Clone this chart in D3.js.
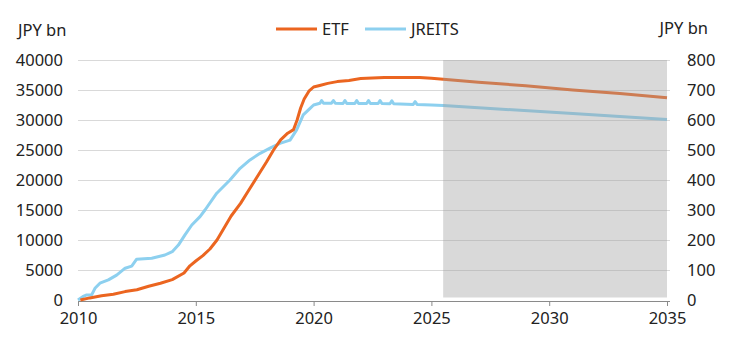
<!DOCTYPE html>
<html>
<head>
<meta charset="utf-8">
<script src="https://cdn.jsdelivr.net/npm/d3@7"></script>
<style>
  html, body { margin: 0; padding: 0; background: #fff; }
  svg { display: block; }
  text { font-family: "Noto Sans", "Open Sans", sans-serif; fill: #222; }
</style>
</head>
<body>
<svg id="chart" width="729" height="346"></svg>
<script>
// BoJ holdings: ETF (left axis) and J-REITs (right axis), JPY bn
const etfYears = [2010.1, 2010.5, 2011.0, 2011.5, 2012.0, 2012.5, 2013.0, 2013.5, 2014.0, 2014.5,
  2014.75, 2015.0, 2015.3, 2015.6, 2015.9, 2016.2, 2016.5, 2016.9, 2017.2, 2017.6,
  2018.0, 2018.3, 2018.6, 2018.9, 2019.15, 2019.3, 2019.45, 2019.6, 2019.8, 2020.0,
  2020.3, 2020.6, 2021.0, 2021.5, 2022.0, 2022.5, 2023.0, 2024.0, 2024.5, 2025.0,
  2025.5, 2027.0, 2029.0, 2031.0, 2033.0, 2035.0];
const etfValues = [0, 350, 700, 950, 1400, 1700, 2300, 2800, 3400, 4500,
  5700, 6500, 7400, 8500, 10000, 12000, 14000, 16100, 18000, 20500,
  23000, 25000, 26700, 27800, 28400, 30000, 32000, 33500, 34800, 35500,
  35800, 36100, 36400, 36600, 36900, 37000, 37100, 37100, 37100, 36950,
  36800, 36300, 35700, 35000, 34400, 33700];

const jreitYears = [2010.0, 2010.2, 2010.37, 2010.58, 2010.72, 2010.93, 2011.29, 2011.64, 2012.0, 2012.28,
  2012.49, 2013.13, 2013.69, 2014.0, 2014.26, 2014.54, 2014.83, 2015.18, 2015.39, 2015.89,
  2016.45, 2016.88, 2017.3, 2017.73, 2018.15, 2018.57, 2019.0, 2019.28, 2019.56, 2019.85,
  2020.0, 2020.27, 2020.34, 2020.42, 2020.76, 2020.84, 2020.92, 2021.25, 2021.33, 2021.41,
  2021.75, 2021.83, 2021.91, 2022.25, 2022.33, 2022.41, 2022.74, 2022.82, 2022.9, 2023.24,
  2023.32, 2023.4, 2024.23, 2024.31, 2024.39, 2025.0, 2025.5, 2028.0, 2031.0, 2035.0];
const jreitValues = [0, 11, 17, 17, 39, 56, 67, 83, 106, 113,
  136, 139, 150, 161, 183, 217, 250, 278, 300, 356,
  400, 439, 467, 489, 506, 522, 533, 567, 617, 639,
  650, 656, 665, 656, 656, 665, 656, 655, 665, 655,
  655, 665, 655, 655, 665, 655, 655, 665, 655, 654,
  664, 654, 652, 661, 652, 650, 648, 636, 622, 602];

const xTicks = [2010, 2015, 2020, 2025, 2030, 2035];
const leftTicks = [0, 5000, 10000, 15000, 20000, 25000, 30000, 35000, 40000];
const rightTicks = [0, 100, 200, 300, 400, 500, 600, 700, 800];
const forecastStart = 2025.5;
const seriesNames = ["ETF", "JREITS"];
const colors = ["#eb6520", "#8dd0ef"];

const svg = d3.select("#chart");
const x = d3.scaleLinear().domain([2010, 2035]).range([78, 667]);
const yL = d3.scaleLinear().domain([0, 40000]).range([300, 60]);
const yR = d3.scaleLinear().domain([0, 800]).range([300, 60]);

// gridlines
svg.append("g").selectAll("line").data(leftTicks.slice(1)).join("line")
  .attr("x1", 78).attr("x2", 670)
  .attr("y1", d => yL(d) + 0.5).attr("y2", d => yL(d) + 0.5)
  .attr("stroke", "#d9d9d9").attr("stroke-width", 1);

// left axis labels
svg.append("g").selectAll("text").data(leftTicks).join("text")
  .attr("x", 63).attr("y", d => yL(d)).attr("dy", "0.35em")
  .attr("text-anchor", "end").attr("font-size", 16.5).text(d => d);
// right axis labels
svg.append("g").selectAll("text").data(rightTicks).join("text")
  .attr("x", 687).attr("y", d => yR(d)).attr("dy", "0.35em")
  .attr("text-anchor", "start").attr("font-size", 16.5).text(d => d);

svg.append("text").attr("x", 18).attr("y", 30).attr("dy", "0.35em")
  .attr("font-size", 16.5).text("JPY bn");
svg.append("text").attr("x", 708).attr("y", 28).attr("dy", "0.35em")
  .attr("text-anchor", "end").attr("font-size", 16.5).text("JPY bn");

// x axis
const xAxis = svg.append("g").attr("transform", "translate(0,301)")
  .call(d3.axisBottom(x).tickValues(xTicks).tickFormat(d3.format("d")).tickSize(5).tickPadding(6));
xAxis.select(".domain").attr("stroke", "#8a8a8a").attr("d", "M78,0.5H670");
xAxis.selectAll(".tick line").attr("stroke", "#8a8a8a");
xAxis.selectAll(".tick text").attr("font-size", 16.5).attr("fill", "#222")
  .style("font-family", '"Noto Sans", sans-serif');

// series lines
const lineL = d3.line().x((d, i) => x(etfYears[i])).y(d => yL(d));
const lineR = d3.line().x((d, i) => x(jreitYears[i])).y(d => yR(d));
svg.append("path").datum(jreitValues).attr("d", lineR)
  .attr("fill", "none").attr("stroke", colors[1]).attr("stroke-width", 3)
  .attr("stroke-linejoin", "round");
svg.append("path").datum(etfValues).attr("d", lineL)
  .attr("fill", "none").attr("stroke", colors[0]).attr("stroke-width", 3)
  .attr("stroke-linejoin", "round");

// forecast shading over the projection period
svg.append("rect")
  .attr("x", x(forecastStart)).attr("y", yL(40000))
  .attr("width", x(2035) - x(forecastStart)).attr("height", 297.5 - yL(40000))
  .attr("fill", "#a0a0a0").attr("fill-opacity", 0.4);

// legend
const legend = svg.append("g");
const legendX = [276, 365];
seriesNames.forEach((name, i) => {
  legend.append("line").attr("x1", legendX[i]).attr("x2", legendX[i] + 41)
    .attr("y1", 29).attr("y2", 29).attr("stroke", colors[i]).attr("stroke-width", 3);
  legend.append("text").attr("x", legendX[i] + 46).attr("y", 29).attr("dy", "0.35em")
    .attr("font-size", 16.5).text(name);
});
</script>
</body>
</html>
